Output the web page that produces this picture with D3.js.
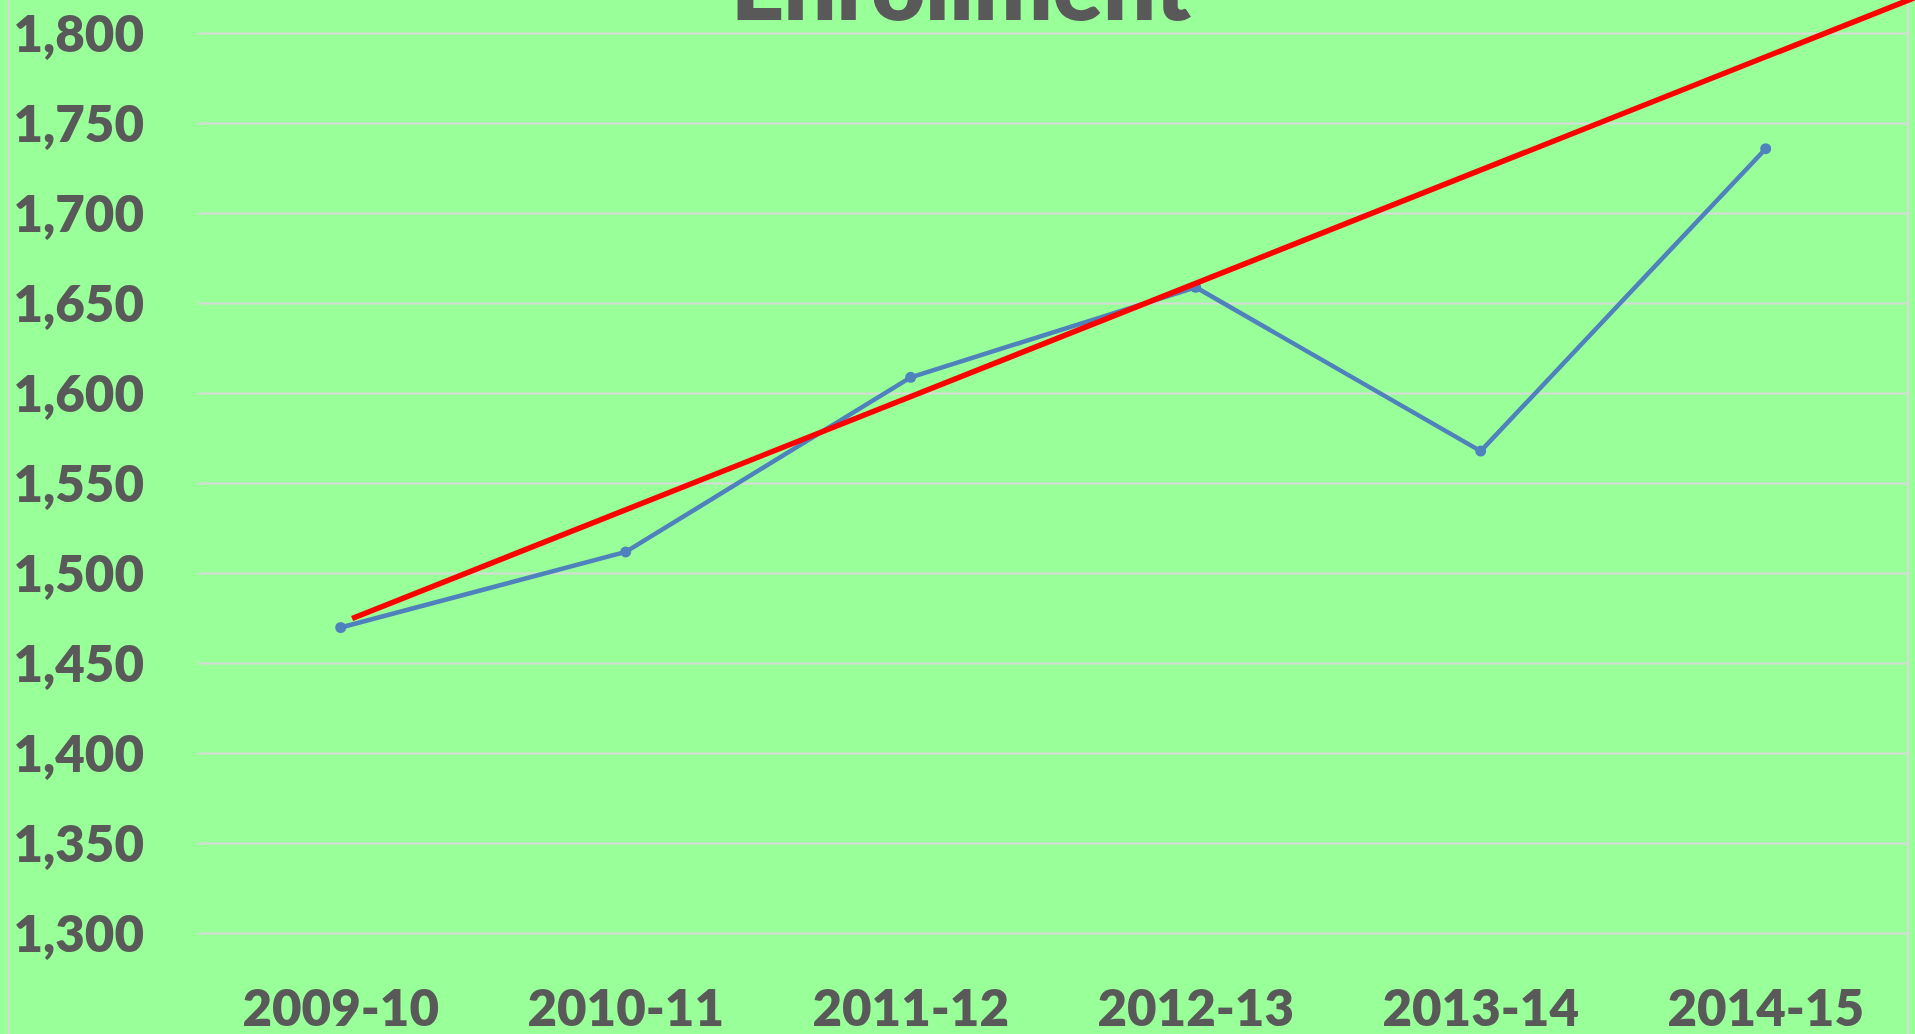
<!DOCTYPE html>
<html>
<head>
<meta charset="utf-8">
<script src="https://cdn.jsdelivr.net/npm/d3@7"></script>
<style>
  html, body { margin: 0; padding: 0; background: #99FF99; overflow: hidden; }
  svg { display: block; }
</style>
</head>
<body>
<script>
// ---- data ----
const categories = ["2009-10", "2010-11", "2011-12", "2012-13", "2013-14", "2014-15"];
const enrollment = [1470, 1512, 1609, 1659, 1568, 1736];
// straight red line: positions in category-index units and values
const trendPos = [0.04, 5.524];
const trendValues = [1475, 1820];
const yTicks = [1300, 1350, 1400, 1450, 1500, 1550, 1600, 1650, 1700, 1750, 1800];
const titleText = "Enrollment";

// ---- layout ----
const W = 1915, H = 1034;
const plot = { left: 198.2, right: 1908.2, top: 33.5, bottom: 933.5 };
const textColor = "#595959";
const gridColor = "#D9D9D9";
const font = "Lato, 'Open Sans', sans-serif";

const svg = d3.select("body").append("svg")
  .attr("width", W).attr("height", H);

svg.append("rect").attr("width", W).attr("height", H).attr("fill", "#99FF99");

const x = d3.scaleBand().domain(categories).range([plot.left, plot.right]).padding(0);
const xc = c => x(c) + x.bandwidth() / 2;
const xi = d3.scaleLinear().domain([0, categories.length - 1])
  .range([xc(categories[0]), xc(categories[categories.length - 1])]);
const y = d3.scaleLinear().domain([1300, 1800]).range([plot.bottom, plot.top]);

// chart borders
svg.append("line").attr("x1", 8.7).attr("x2", 8.7).attr("y1", 0).attr("y2", H)
  .attr("stroke", gridColor).attr("stroke-width", 2);
svg.append("line").attr("x1", plot.right).attr("x2", plot.right).attr("y1", 0).attr("y2", H)
  .attr("stroke", gridColor).attr("stroke-width", 2);

// gridlines
svg.append("g").selectAll("line").data(yTicks).join("line")
  .attr("x1", plot.left).attr("x2", plot.right)
  .attr("y1", d => y(d)).attr("y2", d => y(d))
  .attr("stroke", gridColor).attr("stroke-width", 2);

// y axis
const yAxis = d3.axisLeft(y).tickValues(yTicks).tickFormat(d3.format(",")).tickSize(0).tickPadding(0);
const gy = svg.append("g").attr("transform", "translate(144,0)").call(yAxis);
gy.select(".domain").remove();
gy.selectAll("text")
  .attr("fill", textColor).attr("font-family", font).attr("font-weight", 800)
  .attr("font-size", 51).attr("dy", "0.36em").attr("x", 0);

// x axis
const xAxis = d3.axisBottom(x).tickSize(0).tickPadding(0);
const gx = svg.append("g").attr("transform", "translate(0,1026)").call(xAxis);
gx.select(".domain").remove();
gx.selectAll("text")
  .attr("fill", textColor).attr("font-family", font).attr("font-weight", 800)
  .attr("font-size", 51).attr("dy", 0).attr("y", 0);

// title
svg.append("text").text(titleText)
  .attr("x", 961).attr("y", 19.5).attr("text-anchor", "middle")
  .attr("fill", textColor).attr("font-family", font).attr("font-weight", 800)
  .attr("font-size", 93);

// series line
const pts = categories.map((c, i) => [xc(c), y(enrollment[i])]);
svg.append("path").attr("d", d3.line()(pts))
  .attr("fill", "none").attr("stroke", "#4F81BD").attr("stroke-width", 4.5)
  .attr("stroke-linejoin", "round");
svg.append("g").selectAll("circle").data(pts).join("circle")
  .attr("cx", d => d[0]).attr("cy", d => d[1]).attr("r", 5.5).attr("fill", "#4F81BD");

// red straight line
const tpts = trendPos.map((p, i) => [xi(p), y(trendValues[i])]);
svg.append("path").attr("d", d3.line()(tpts))
  .attr("fill", "none").attr("stroke", "#FF0000").attr("stroke-width", 5.5);
</script>
</body>
</html>
